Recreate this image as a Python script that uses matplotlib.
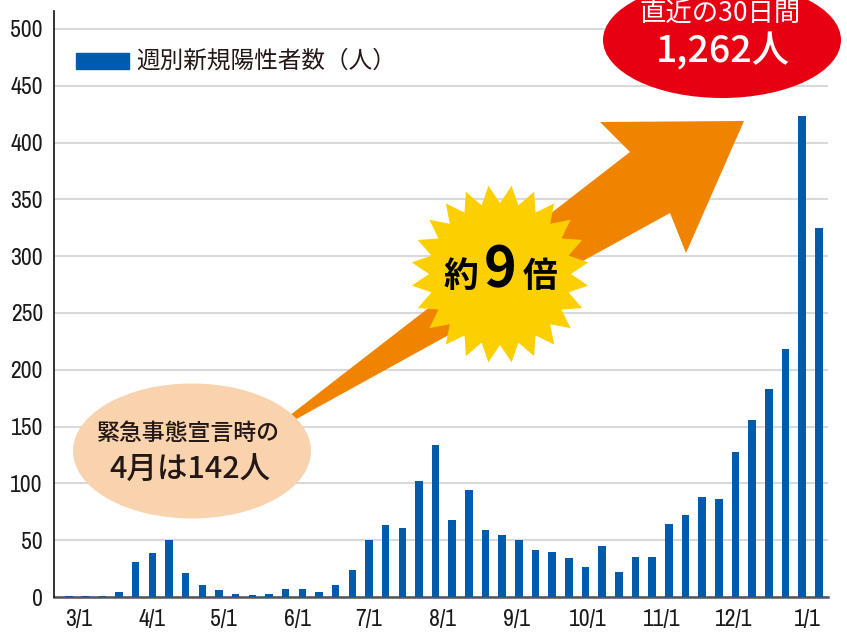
import numpy as np
import pandas as pd
import matplotlib
matplotlib.use('Agg')
import matplotlib.pyplot as plt
from matplotlib.patches import Ellipse, Polygon

# weekly new positive cases
week_start = '2020-02-26'
weekly_cases = [1, 1, 1, 4, 31, 39, 50, 21, 11, 6, 3, 2, 3, 7, 7, 4,
                11, 24, 50, 63, 61, 102, 134, 68, 94, 59, 55, 50, 41, 40,
                34, 26, 45, 22, 35, 35, 64, 72, 88, 86, 128, 156, 183, 218,
                423, 325]
month_ticks = ['2020-03-01', '2020-04-01', '2020-05-01', '2020-06-01', '2020-07-01',
               '2020-08-01', '2020-09-01', '2020-10-01', '2020-11-01', '2020-12-01',
               '2021-01-01']
month_labels = ['3/1', '4/1', '5/1', '6/1', '7/1', '8/1', '9/1', '10/1', '11/1', '12/1', '1/1']
legend_label = '週別新規陽性者数（人）'

BLUE = '#005bac'
ORANGE = '#f08300'
YELLOW = '#fcd000'
PEACH = '#f9d3ae'
RED = '#e60012'
INK = '#231815'
CJK = ['Noto Sans CJK JP', 'DejaVu Sans']
NUM_FONT = ['Archivo Narrow', 'DejaVu Sans']

dates = pd.date_range(week_start, periods=len(weekly_cases), freq='7D')

fig = plt.figure(figsize=(8.47, 6.4), dpi=100)
ax = fig.add_axes([54 / 847, 43 / 640, 774 / 847, 586 / 640])

ax.bar(dates, weekly_cases, width=3.2, color=BLUE, zorder=3)

ax.set_ylim(0, 515.8)
ax.set_xlim(dates[0] - pd.Timedelta(days=6.3), dates[-1] + pd.Timedelta(days=3.8))
ax.set_yticks(np.arange(0, 501, 50))
ax.set_xticks(pd.to_datetime(month_ticks))
ax.set_xticklabels(month_labels)
ax.grid(axis='y', color='#d9d9d9', linewidth=1.5, zorder=0)
ax.tick_params(axis='both', length=0, labelsize=17, colors='#1a1a1a')
ax.tick_params(axis='y', pad=8)
ax.tick_params(axis='x', pad=9)
for lab in ax.get_xticklabels() + ax.get_yticklabels():
    lab.set_family(NUM_FONT)
for s in ['top', 'right']:
    ax.spines[s].set_visible(False)
ax.spines['left'].set_color('#111111')
ax.spines['left'].set_linewidth(1.2)
ax.spines['bottom'].set_color('#555555')
ax.spines['bottom'].set_linewidth(1.8)
ax.spines['bottom'].set_zorder(2)

# overlay in pixel coordinates for the annotations
ov = fig.add_axes([0, 0, 1, 1])
ov.set_xlim(0, 847)
ov.set_ylim(640, 0)
ov.axis('off')

# legend
ov.add_patch(plt.Rectangle((76, 53), 53, 16, color=BLUE))
ov.text(136, 61, legend_label, family=CJK, fontsize=17, color=INK, va='center', ha='left')

# arrow
arrow = [(280, 423), (630, 152), (600, 122), (744, 121), (686, 253), (670, 213), (280, 428)]
ov.add_patch(Polygon(arrow, closed=True, color=ORANGE, lw=0))

# starburst
n = 24
cx, cy = 500, 274
ang = np.deg2rad(7.5 + np.arange(2 * n) * 180 / n)
rad = np.where(np.arange(2 * n) % 2 == 0, 89, 71)
star = np.column_stack([cx + rad * np.cos(ang), cy - rad * np.sin(ang)])
ov.add_patch(Polygon(star, closed=True, color=YELLOW, lw=0))
ov.text(461, 277, '約', family=CJK, fontsize=25, weight='bold', color='black', ha='center', va='center')
ov.text(500, 270, '9', family=CJK, fontsize=40, weight='bold', color='black', ha='center', va='center')
ov.text(540, 277, '倍', family=CJK, fontsize=25, weight='bold', color='black', ha='center', va='center')

# peach ellipse
ov.add_patch(Ellipse((192, 451), 238, 135, color=PEACH, lw=0))
ov.text(188, 433, '緊急事態宣言時の', family=CJK, fontsize=16.5, weight='medium', color=INK,
        ha='center', va='center')
ov.text(190, 470, '4月は142人', family=CJK, fontsize=22, weight='medium', color=INK,
        ha='center', va='center')

# red ellipse
ov.add_patch(Ellipse((722, 40), 238, 116, color=RED, lw=0))
ov.text(720, 13, '直近の30日間', family=CJK, fontsize=19, color='white', ha='center', va='center')
ov.text(723, 51, '1,262人', family=CJK, fontsize=27, weight='medium', color='white',
        ha='center', va='center')

fig.savefig('out.png', dpi=100)
